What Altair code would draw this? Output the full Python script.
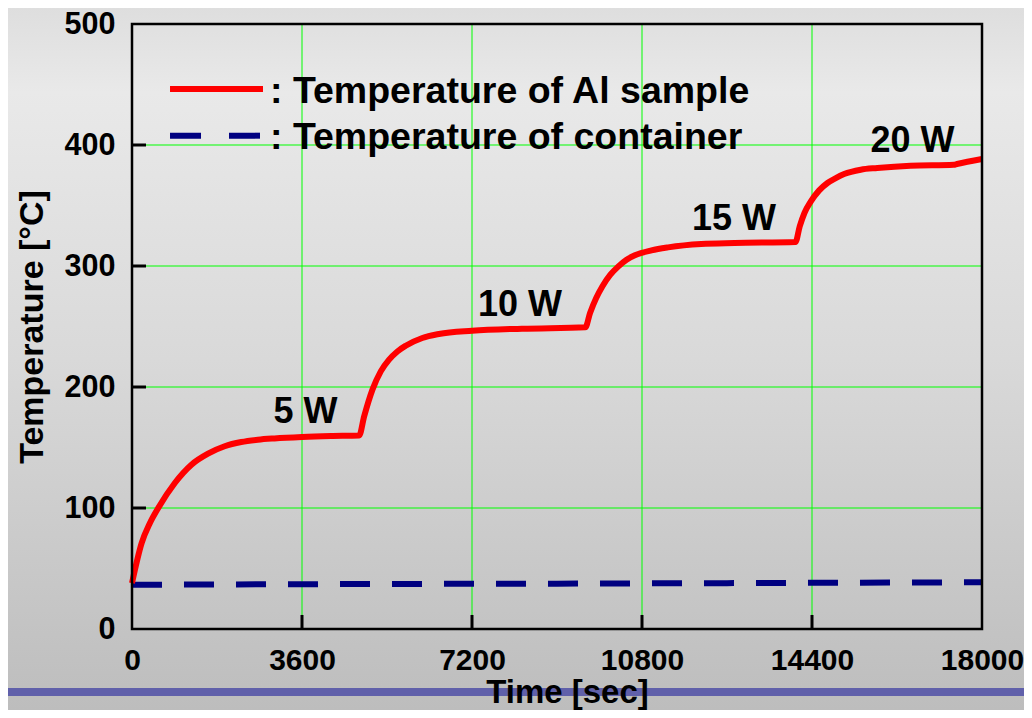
import altair as alt
import pandas as pd

# ---------------- data ----------------
red_time = [0, 204, 380, 555, 907, 1259, 1610, 1962, 2314, 2665, 3017, 3600, 4213, 4811,
            4916, 5092, 5268, 5444, 5620, 5796, 6148, 6499, 7202, 8257, 9600,
            9700, 9830, 9960, 10130, 10300, 10473, 10649, 11000, 11352, 12055, 12759, 14050,
            14140, 14240, 14376, 14552, 14728, 14904, 15080, 15432, 15783, 16486, 17400, 17470, 18000]
red_temp = [38, 71, 87.6, 100, 120.7, 135.8, 144.9, 151, 154.5, 156.4, 157.5, 158.7, 159.5, 160,
            175.7, 197.8, 212.9, 222.6, 229.4, 234.1, 240.5, 243.8, 246.5, 248.2, 249.3,
            261.2, 273.6, 283.1, 292.8, 299.7, 305.2, 308.8, 312.9, 315.4, 318.2, 319, 319.8,
            332.7, 343.8, 353.4, 362.5, 368.6, 372.7, 376, 379.6, 381, 382.9, 383.7, 384.3, 388.4]

blue_time = [0, 1800, 3600, 5400, 7200, 9000, 10800, 12600, 14400, 16200, 18000]
blue_temp = [36.5, 36.8, 37.0, 37.2, 37.4, 37.5, 37.7, 37.9, 38.2, 38.4, 38.6]

x_ticks = [0, 3600, 7200, 10800, 14400, 18000]
y_ticks = [0, 100, 200, 300, 400, 500]

ann_text = ["5 W", "10 W", "15 W", "20 W"]
ann_time = [3674, 8216, 12748, 16528]
ann_temp = [179, 268, 339, 403]

series_names = ["Temperature of Al sample", "Temperature of container"]
legend_labels = [": Temperature of Al sample", ": Temperature of container"]

# ---------------- layout / style ----------------
FONT = "Liberation Sans"
W, H = 850, 605
PAD = {"left": 124, "top": 16, "right": 42, "bottom": 81}
XMAX, YMAX = 18000, 500
TICK_T = 296      # inner tick length in time units (~14 px)
TICK_Y = 11.6     # inner tick length in temperature units (~14 px)
LEG_T0, LEG_T1, LEG_TXT = 805, 2774, 2922
LEG_Y = [446.3, 407.7]
LEG_TXT_Y = [434.7, 396.7]

xscale = alt.Scale(domain=[0, XMAX], nice=False, zero=False)
yscale = alt.Scale(domain=[0, YMAX], nice=False, zero=False)

xaxis = alt.Axis(values=x_ticks, format="d", title="Time [sec]", grid=False,
                 ticks=True, tickSize=0, tickOpacity=0, domain=False,
                 labelFont=FONT, labelFontSize=30, labelFontWeight="bold", labelColor="black",
                 labelPadding=16, labelFlush=False, labelOverlap=False,
                 titleFont=FONT, titleFontSize=33, titleFontWeight="bold", titleColor="black",
                 titleX=435, titleY=73.5, titleBaseline="alphabetic", titleAlign="center",
                 zindex=1)
yaxis = alt.Axis(values=y_ticks, format="d", title="Temperature [°C]", grid=False,
                 ticks=True, tickSize=0, tickOpacity=0, domain=False,
                 labelFont=FONT, labelFontSize=30.5, labelFontWeight="bold", labelColor="black",
                 labelPadding=17, labelFlush=False, labelOverlap=False,
                 titleFont=FONT, titleFontSize=34, titleFontWeight="bold", titleColor="black",
                 titleX=-90, titleY=302.5, titleAngle=270, titleBaseline="alphabetic",
                 titleAlign="center", zindex=1)


def X(field="t"):
    return alt.X(f"{field}:Q", scale=xscale, axis=xaxis, title="Time [sec]")


def Y(field="T"):
    return alt.Y(f"{field}:Q", scale=yscale, axis=yaxis, title="Temperature [°C]")


# ---------------- tables ----------------
red_df = pd.DataFrame({"t": red_time, "T": red_temp, "s": series_names[0]})
blue_df = pd.DataFrame({"t": blue_time, "T": blue_temp, "s": series_names[1]})

inner_x = [v for v in x_ticks if 0 < v < XMAX]
inner_y = [v for v in y_ticks if 0 < v < YMAX]
vgrid_df = pd.DataFrame({"t": inner_x, "T": [0] * len(inner_x), "T2": [YMAX] * len(inner_x)})
hgrid_df = pd.DataFrame({"T": inner_y, "t": [0] * len(inner_y), "t2": [XMAX] * len(inner_y)})
vtick_df = pd.DataFrame({"t": inner_x, "T": [0] * len(inner_x), "T2": [TICK_Y] * len(inner_x)})
htick_df = pd.DataFrame({"T": inner_y, "t": [0] * len(inner_y), "t2": [TICK_T] * len(inner_y)})
border_df = pd.DataFrame({"t": [0], "t2": [XMAX], "T": [0], "T2": [YMAX]})
ann_df = pd.DataFrame({"t": ann_time, "T": ann_temp, "label": ann_text})
leg_line_red = pd.DataFrame({"t": [LEG_T0], "t2": [LEG_T1], "T": [LEG_Y[0]]})
leg_line_blue = pd.DataFrame({"t": [LEG_T0], "t2": [LEG_T1 - 20], "T": [LEG_Y[1]]})
leg_txt_df = pd.DataFrame({"t": [LEG_TXT, LEG_TXT], "T": LEG_TXT_Y, "label": legend_labels})

# ---------------- layers ----------------
bg = alt.Chart(pd.DataFrame({"a": [0]})).mark_rect(
    fill=alt.Gradient(gradient="linear", x1=0, x2=0, y1=0, y2=1,
                      stops=[alt.GradientStop(offset=0, color="#dedede"),
                             alt.GradientStop(offset=0.12, color="#e9e9e9"),
                             alt.GradientStop(offset=0.5, color="#d9d9d9"),
                             alt.GradientStop(offset=1, color="#bdbdbd")])
).encode(x=alt.value(-PAD["left"]), x2=alt.value(W + PAD["right"]),
         y=alt.value(-PAD["top"]), y2=alt.value(H + PAD["bottom"]))

bar = alt.Chart(pd.DataFrame({"a": [0]})).mark_rect(fill="#6060aa").encode(
    x=alt.value(-PAD["left"]), x2=alt.value(W + PAD["right"]),
    y=alt.value(664), y2=alt.value(672))

vgrid = alt.Chart(vgrid_df).mark_rule(color="#00ff00", strokeWidth=1).encode(
    x=X(), y=Y(), y2="T2:Q")
hgrid = alt.Chart(hgrid_df).mark_rule(color="#00ff00", strokeWidth=1).encode(
    x=X(), x2="t2:Q", y=Y())

blue_line = alt.Chart(blue_df).mark_line(color="#000080", strokeWidth=6,
                                         strokeDash=[30, 22], strokeCap="butt").encode(
    x=X(), y=Y())
red_line = alt.Chart(red_df).mark_line(color="#ff0000", strokeWidth=6, interpolate="monotone",
                                       strokeJoin="round").encode(x=X(), y=Y())

vticks = alt.Chart(vtick_df).mark_rule(color="black", strokeWidth=3).encode(
    x=X(), y=Y(), y2="T2:Q")
hticks = alt.Chart(htick_df).mark_rule(color="black", strokeWidth=3).encode(
    x=X(), x2="t2:Q", y=Y())

border = alt.Chart(border_df).mark_rect(fillOpacity=0, stroke="black", strokeWidth=2.5).encode(
    x=X(), x2="t2:Q", y=Y(), y2="T2:Q")

ann = alt.Chart(ann_df).mark_text(font=FONT, fontSize=36, fontWeight="bold", color="black",
                                  align="center", baseline="middle").encode(
    x=X(), y=Y(), text="label:N")

leg_red = alt.Chart(leg_line_red).mark_rule(color="#ff0000", strokeWidth=6).encode(
    x=X(), x2="t2:Q", y=Y())
leg_blue = alt.Chart(leg_line_blue).mark_rule(color="#000080", strokeWidth=6,
                                              strokeDash=[31, 28]).encode(
    x=X(), x2="t2:Q", y=Y())
leg_txt = alt.Chart(leg_txt_df).mark_text(font=FONT, fontSize=37.5, fontWeight="bold",
                                          color="black", align="left",
                                          baseline="alphabetic").encode(
    x=X(), y=Y(), text="label:N")

chart = alt.layer(
    bg, bar, vgrid, hgrid, blue_line, red_line, vticks, hticks, border, ann,
    leg_red, leg_blue, leg_txt
).properties(
    width=W, height=H, padding=PAD,
    autosize=alt.AutoSizeParams(type="none"),
).configure(background="#d6d6d6").configure_view(stroke="transparent")

chart.save("out.html", embed_options={"renderer": "svg", "actions": False})
